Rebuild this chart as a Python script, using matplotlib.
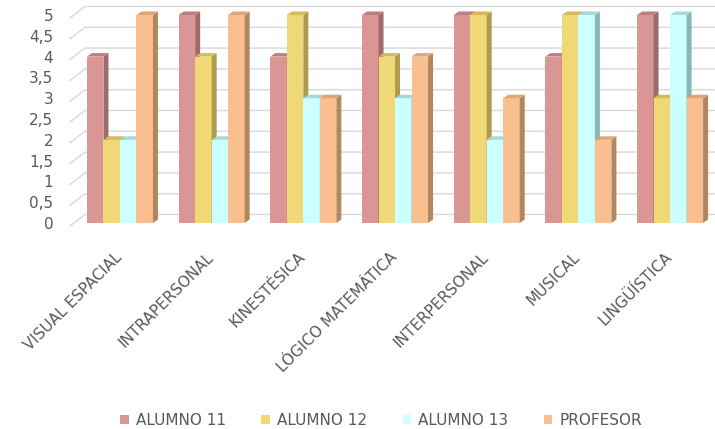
import numpy as np
import matplotlib
matplotlib.use("Agg")
from matplotlib import pyplot as plt
from matplotlib.patches import Polygon, Patch
from matplotlib.transforms import IdentityTransform, ScaledTranslation

plt.rcParams["font.family"] = ["DejaVu Sans"]

categories = ["VISUAL ESPACIAL", "INTRAPERSONAL", "KINESTÉSICA", "LÓGICO MATEMÁTICA",
              "INTERPERSONAL", "MUSICAL", "LINGÜÍSTICA"]
series_names = ["ALUMNO 11", "ALUMNO 12", "ALUMNO 13", "PROFESOR"]
alumno_11 = [4, 5, 4, 5, 5, 4, 5]
alumno_12 = [2, 4, 5, 4, 5, 5, 3]
alumno_13 = [2, 2, 3, 3, 2, 5, 5]
profesor = [5, 5, 3, 4, 3, 2, 3]
y_ticks = np.arange(0, 5.01, 0.5)
y_tick_labels = ["0", "0,5", "1", "1,5", "2", "2,5", "3", "3,5", "4", "4,5", "5"]

front_colors = ["#D99694", "#F1D877", "#CCFFFF", "#FABF8F"]
side_colors = ["#9E6B6A", "#AE9B4E", "#86B6B6", "#B2875F"]
top_colors = ["#BE7E7C", "#D3BB5C", "#A6DADA", "#DDA676"]
TEXT = "#595959"
GRID = "#D9D9D9"

DX, DY = 5.0, 3.5          # bar depth in pixels
WALL_DX, WALL_UP, WALL_DOWN = 15.0, 8.5, 3.0   # back wall offset of gridlines

fig = plt.figure(figsize=(7.15, 4.29), dpi=100)
ax = fig.add_axes([70 / 715, (429 - 223) / 429, 645 / 715, 208 / 429])
ax.set_xlim(-0.545, 6.49)
ax.set_ylim(0, 5)
for s in ax.spines.values():
    s.set_visible(False)
ax.tick_params(length=0, colors=TEXT)

ident = IdentityTransform()

# gridlines: short slanted side wall, then the back wall
x_left = ax.transAxes.transform((0, 0))[0]
x_right = ax.transAxes.transform((1, 0))[0]
for v in y_ticks:
    y = ax.transData.transform((0, v))[1]
    ax.plot([x_left, x_left + WALL_DX, x_right],
            [y - WALL_DOWN, y + WALL_UP, y + WALL_UP],
            color=GRID, lw=1, transform=ident, clip_on=False, zorder=1)

x = np.arange(len(categories))
w = 0.18
data = [alumno_11, alumno_12, alumno_13, profesor]
for j, vals in enumerate(data):
    z = 3 + j * 0.1
    ax.bar(x + (j - 1.5) * w, vals, w, color=front_colors[j],
           zorder=z, label=series_names[j], clip_on=False)
    for xi, v in zip(x + (j - 1.5) * w, vals):
        xl, y0 = ax.transData.transform((xi - w / 2, 0))
        xr, yh = ax.transData.transform((xi + w / 2, v))
        side = Polygon([(xr, y0), (xr + DX, y0 + DY), (xr + DX, yh + DY), (xr, yh)],
                       closed=True, facecolor=side_colors[j], edgecolor="none",
                       transform=ident, zorder=z + 0.01, clip_on=False)
        top = Polygon([(xl, yh), (xr, yh), (xr + DX, yh + DY), (xl + DX, yh + DY)],
                      closed=True, facecolor=top_colors[j], edgecolor="none",
                      transform=ident, zorder=z + 0.02, clip_on=False)
        ax.add_patch(side)
        ax.add_patch(top)

ax.set_yticks(y_ticks, y_tick_labels, fontsize=11, color=TEXT)
ax.tick_params(axis="y", pad=12)
ax.set_xticks(x, categories, rotation=45, ha="right", rotation_mode="anchor",
              fontsize=11, color=TEXT)
ax.tick_params(axis="x", pad=19)
shift = ScaledTranslation(-6 / 100, 0, fig.dpi_scale_trans)
for lab in ax.get_xticklabels():
    lab.set_transform(lab.get_transform() + shift)

handles = [Patch(facecolor=c, edgecolor="none") for c in front_colors]
leg = fig.legend(handles, series_names, ncol=4, loc="lower center",
                 bbox_to_anchor=(0.533, -0.03), frameon=False, fontsize=11,
                 handlelength=0.55, handleheight=0.55, handletextpad=0.45,
                 columnspacing=2.35)
for t in leg.get_texts():
    t.set_color(TEXT)

fig.savefig("out.png", dpi=100)
